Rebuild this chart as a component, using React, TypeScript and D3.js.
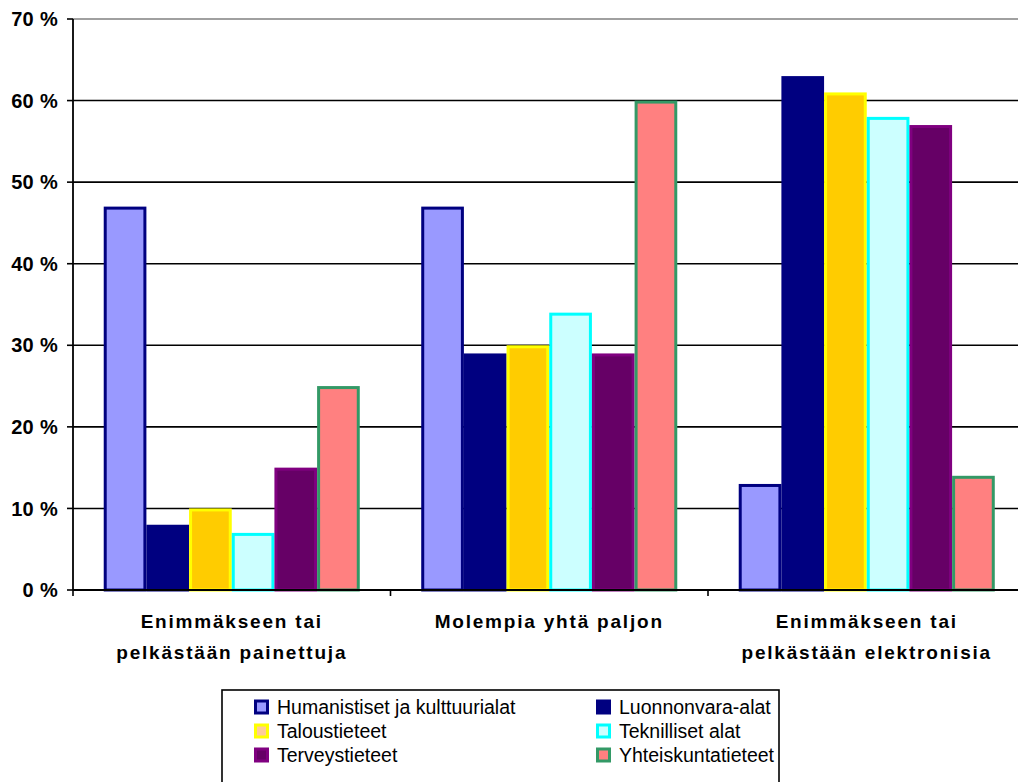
import React from 'react';
import * as d3 from 'd3';

const categories = [
  ['Enimmäkseen tai', 'pelkästään painettuja'],
  ['Molempia yhtä paljon'],
  ['Enimmäkseen tai', 'pelkästään elektronisia'],
];
const seriesNames = [
  'Humanistiset ja kulttuurialat',
  'Luonnonvara-alat',
  'Taloustieteet',
  'Teknilliset alat',
  'Terveystieteet',
  'Yhteiskuntatieteet',
];
// arvot prosentteina, yksi rivi per sarja (ryhmät järjestyksessä)
const humanistiset = [47, 47, 13];
const luonnonvara = [8, 29, 63];
const talous = [10, 30, 61];
const teknilliset = [7, 34, 58];
const terveys = [15, 29, 57];
const yhteiskunta = [25, 60, 14];
const values = [humanistiset, luonnonvara, talous, teknilliset, terveys, yhteiskunta];
const yTicks = [0, 10, 20, 30, 40, 50, 60, 70];

const fills = ['#9999FF', '#000080', '#FFCC00', '#CCFFFF', '#660066', '#FF8080'];
const strokes = ['#000080', '#000080', '#FFFF00', '#00FFFF', '#800080', '#339966'];
const legendFills = ['#9999FF', '#000080', '#FFCC99', '#CCFFFF', '#660066', '#FF8080'];

const W = 1018;
const H = 782;
const left = 73;
const top = 19;
const bottom = 590;
const step = 317.5;

const App: React.FC = () => {
  const catKeys = categories.map((_, i) => String(i));
  const x0 = d3.scaleBand().domain(catKeys).range([left, left + step * 3]);
  const x1 = d3
    .scaleBand()
    .domain(seriesNames)
    .range([0, x0.bandwidth()])
    .paddingInner(0)
    .paddingOuter(0.72);
  const y = d3.scaleLinear().domain([0, 70]).range([bottom, top]);

  const font = '"Liberation Sans", Arial, sans-serif';

  return (
    <svg width={W} height={H} style={{ position: 'absolute', left: 0, top: 0 }} fontFamily={font}>
      <rect width={W} height={H} fill="#fff" />
      {/* ruudukko */}
      {yTicks.map((t) => (
        <g key={t}>
          {t > 0 && (
            <line
              x1={left}
              x2={W}
              y1={y(t)}
              y2={y(t)}
              stroke={t === 70 ? '#808080' : '#000'}
              strokeWidth={1.6}
            />
          )}
          <line x1={left - 6} x2={left} y1={y(t)} y2={y(t)} stroke="#000" strokeWidth={1.6} />
          <text
            x={left - 15}
            y={y(t)}
            dy="0.36em"
            textAnchor="end"
            fontSize={20}
            fontWeight="bold"
            letterSpacing={0.3}
          >
            {t} %
          </text>
        </g>
      ))}
      {/* palkit */}
      {catKeys.map((c, ci) =>
        seriesNames.map((s, si) => {
          const v = values[si][ci];
          const bx = (x0(c) ?? 0) + (x1(s) ?? 0);
          const bw = x1.bandwidth();
          const sw = 3;
          return (
            <rect
              key={c + s}
              x={bx + sw / 2}
              y={y(v) + sw / 2}
              width={bw - sw}
              height={bottom - y(v) - sw / 2}
              fill={fills[si]}
              stroke={strokes[si]}
              strokeWidth={sw}
            />
          );
        })
      )}
      {/* akselit */}
      <line x1={left} x2={left} y1={top} y2={bottom} stroke="#000" strokeWidth={1.8} />
      <line x1={left} x2={W} y1={bottom} y2={bottom} stroke="#000" strokeWidth={1.8} />
      {[0, 1, 2, 3].map((i) => (
        <line
          key={i}
          x1={left + step * i}
          x2={left + step * i}
          y1={bottom}
          y2={bottom + 6}
          stroke="#000"
          strokeWidth={1.6}
        />
      ))}
      {categories.map((lines, ci) => {
        const cx = (x0(String(ci)) ?? 0) + x0.bandwidth() / 2;
        return (
          <text
            key={ci}
            x={cx}
            y={628}
            textAnchor="middle"
            fontSize={19}
            fontWeight="bold"
            letterSpacing={1.8}
          >
            {lines.map((l, li) => (
              <tspan key={li} x={cx} dy={li === 0 ? 0 : 31}>
                {l}
              </tspan>
            ))}
          </text>
        );
      })}
      {/* selite */}
      <rect x={222} y={690} width={557} height={100} fill="#fff" stroke="#000" strokeWidth={1.6} />
      {seriesNames.map((s, si) => {
        const col = si % 2;
        const row = Math.floor(si / 2);
        const lx = col === 0 ? 254 : 596;
        const ly = 707 + row * 24;
        return (
          <g key={s}>
            <rect
              x={lx + 1.5}
              y={ly - 6}
              width={12}
              height={12}
              fill={legendFills[si]}
              stroke={strokes[si]}
              strokeWidth={3}
            />
            <text x={lx + 23} y={ly} dy="0.36em" fontSize={19.5}>
              {s}
            </text>
          </g>
        );
      })}
    </svg>
  );
};

export default App;
